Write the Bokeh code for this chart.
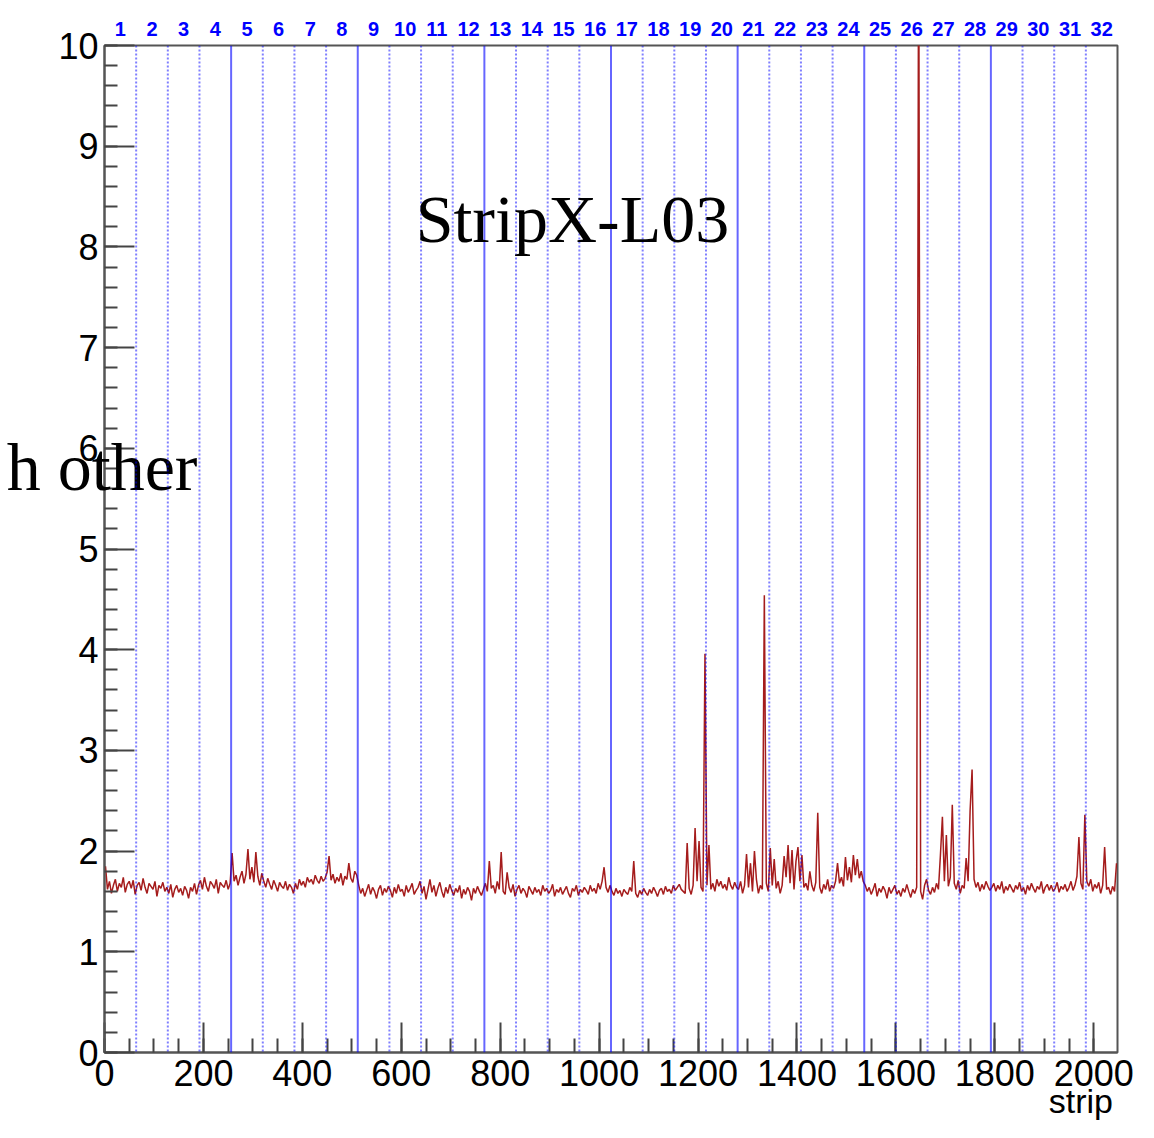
from bokeh.plotting import figure
from bokeh.models import (Label, Span, Range1d, SingleIntervalTicker,
                          FixedTicker, LinearAxis)
from bokeh.embed import file_html
from bokeh.resources import INLINE

# ---------------- data (4 strips per value) ----------
strips_per_value = 4
strips_per_chip = 64
n_strips = 2048

s0 = [1.85,1.62,1.70,1.58,1.66,1.72,1.60,1.68,1.64,1.74,1.59,1.67,1.70,1.63,1.71,1.57,
      1.66,1.69,1.61,1.73,1.64,1.58,1.68,1.65,1.62,1.70,1.55,1.66,1.63,1.69,1.60,1.64,
      1.58,1.67,1.54,1.62,1.66,1.59,1.63,1.56,1.65,1.61,1.53,1.64,1.60,1.68,1.57,1.66,
      1.71,1.62,1.74,1.65,1.60,1.70,1.67,1.63,1.72,1.58,1.69,1.66,1.64,1.71,1.62,1.68]
s1 = [1.98,1.70,1.76,1.66,1.74,1.80,1.68,1.77,2.02,1.72,1.84,1.69,1.99,1.75,1.66,1.78,
      1.70,1.64,1.73,1.67,1.62,1.71,1.66,1.60,1.69,1.65,1.63,1.70,1.61,1.67,1.64,1.58,
      1.68,1.62,1.72,1.66,1.70,1.64,1.74,1.69,1.72,1.67,1.76,1.71,1.68,1.75,1.70,1.73,
      1.79,1.95,1.71,1.77,1.68,1.74,1.70,1.78,1.66,1.75,1.72,1.88,1.73,1.69,1.80,1.76]
s2 = [1.66,1.58,1.63,1.55,1.61,1.67,1.57,1.64,1.60,1.53,1.62,1.66,1.56,1.63,1.59,1.65,
      1.61,1.54,1.64,1.58,1.67,1.60,1.62,1.55,1.66,1.59,1.63,1.68,1.57,1.61,1.64,1.70,
      1.58,1.65,1.52,1.62,1.72,1.59,1.66,1.55,1.63,1.69,1.60,1.54,1.64,1.58,1.67,1.61,
      1.56,1.63,1.59,1.66,1.53,1.62,1.57,1.64,1.60,1.51,1.63,1.58,1.65,1.60,1.56,1.62]
s3 = [1.68,1.60,1.90,1.63,1.66,1.58,1.70,1.62,1.99,1.60,1.57,1.79,1.64,1.59,1.67,1.55,
      1.62,1.66,1.58,1.63,1.60,1.54,1.65,1.61,1.57,1.64,1.59,1.62,1.56,1.66,1.60,1.63,
      1.58,1.61,1.67,1.55,1.62,1.59,1.64,1.57,1.61,1.65,1.58,1.54,1.63,1.60,1.66,1.56,
      1.62,1.59,1.64,1.61,1.57,1.66,1.60,1.63,1.58,1.68,1.62,1.70,1.84,1.64,1.59,1.66]
s4 = [1.60,1.56,1.63,1.58,1.61,1.55,1.62,1.59,1.57,1.64,1.60,1.90,1.58,1.54,1.61,1.57,
      1.63,1.59,1.56,1.62,1.58,1.64,1.60,1.55,1.61,1.63,1.57,1.65,1.60,1.62,1.58,1.66,
      1.61,1.64,1.67,1.62,1.60,1.58,2.08,1.63,1.57,1.66,2.23,1.70,2.10,1.64,1.60,3.96,
      1.66,2.06,1.62,1.68,1.60,1.72,1.65,1.70,1.63,1.67,1.61,1.74,1.66,1.62,1.69,1.64]
s5 = [1.62,1.70,1.58,1.66,1.97,1.64,1.88,1.60,2.00,1.72,1.58,1.66,1.62,4.54,1.68,1.60,
      2.03,1.66,1.92,1.63,1.70,1.58,1.66,1.95,1.74,2.06,1.68,2.01,1.62,1.90,2.04,1.70,
      1.96,1.64,1.68,1.61,1.80,1.66,1.60,1.69,2.38,1.64,1.58,1.67,1.62,1.72,1.60,1.66,
      1.63,1.70,1.88,1.68,1.74,1.65,1.94,1.71,1.84,1.69,1.96,1.76,1.92,1.73,1.80,1.70]
s6 = [1.66,1.60,1.64,1.57,1.62,1.68,1.55,1.63,1.59,1.65,1.61,1.53,1.64,1.58,1.62,1.66,
      1.57,1.61,1.55,1.63,1.59,1.67,1.60,1.54,1.62,1.58,1.64,11.5,1.60,1.52,1.66,1.72,
      1.61,1.57,1.64,1.59,1.68,1.62,1.96,2.34,1.70,2.16,1.65,1.74,2.46,1.68,1.62,1.71,
      1.58,1.66,1.63,1.93,1.70,2.40,2.81,1.72,1.64,1.69,1.60,1.67,1.62,1.70,1.65,1.61]
s7 = [1.64,1.68,1.60,1.66,1.62,1.70,1.58,1.65,1.61,1.67,1.63,1.59,1.66,1.62,1.69,1.60,
      1.64,1.57,1.66,1.61,1.68,1.63,1.59,1.65,1.62,1.70,1.58,1.64,1.67,1.61,1.66,1.60,
      1.63,1.69,1.59,1.65,1.62,1.67,1.60,1.64,1.70,1.61,1.66,1.75,2.14,1.68,1.62,2.36,
      1.70,1.65,1.72,1.60,1.67,1.63,1.69,1.58,1.66,2.04,1.62,1.64,1.57,1.65,1.60,1.88]

chip_labels = [str(i) for i in range(1, 33)]
title_text = "StripX-L03"
side_text = "h other"
x_title = "strip"

# ---------------- build ----------------
values = s0 + s1 + s2 + s3 + s4 + s5 + s6 + s7
xs = [i * strips_per_value + strips_per_value / 2 for i in range(len(values))]

p = figure(width=1138, height=1122,
           x_range=Range1d(0, n_strips), y_range=Range1d(0, 10),
           output_backend="svg", toolbar_location=None,
           min_border_left=104, min_border_right=21, min_border_top=45,
           min_border_bottom=70)
p.xgrid.visible = False
p.ygrid.visible = False
p.background_fill_color = "white"
p.border_fill_color = "white"
p.outline_line_color = "#555555"
p.outline_line_width = 2

p.line(xs, values, line_color="#a51c1c", line_width=1.5)

# chip boundaries
for k in range(1, n_strips // strips_per_chip):
    xb = k * strips_per_chip
    if k % 4 == 0:
        p.add_layout(Span(location=xb, dimension="height", line_color="#0000ff",
                          line_alpha=0.6, line_width=2))
    else:
        p.add_layout(Span(location=xb, dimension="height", line_color="#0000ff",
                          line_alpha=0.5, line_width=2, line_dash="2 2"))

xax = p.xaxis[0]
yax = p.yaxis[0]
for ax in (xax, yax):
    ax.axis_line_color = "#555555"
    ax.axis_line_width = 2
    ax.major_tick_line_color = "#444444"
    ax.minor_tick_line_color = "#444444"
    ax.major_tick_line_width = 2
    ax.minor_tick_line_width = 2
    ax.major_tick_out = 0
    ax.minor_tick_out = 0
    ax.major_tick_in = 30
    ax.major_label_text_font = "Liberation Sans"
    ax.major_label_text_font_size = "36px"
    ax.major_label_text_color = "black"

xax.ticker = SingleIntervalTicker(interval=200, num_minor_ticks=4)
xax.minor_tick_in = 14
xax.major_label_standoff = 7
yax.ticker = SingleIntervalTicker(interval=1, num_minor_ticks=5)
yax.minor_tick_in = 13
yax.major_label_standoff = 6


def text_axis(ticks, labels, **kw):
    ax = LinearAxis(ticker=FixedTicker(ticks=ticks, minor_ticks=[]),
                    major_label_overrides=dict(zip(ticks, labels)),
                    axis_line_color=None, major_tick_line_color=None,
                    minor_tick_line_color=None, major_tick_in=0,
                    major_tick_out=0, minor_tick_in=0, minor_tick_out=0, **kw)
    return ax


# chip numbers above the frame
chip_centers = [k * strips_per_chip + strips_per_chip // 2 for k in range(len(chip_labels))]
top_ax = text_axis(chip_centers, chip_labels, major_label_standoff=10,
                   major_label_text_color="#0000ff",
                   major_label_text_font="Liberation Sans",
                   major_label_text_font_style="bold",
                   major_label_text_font_size="20px")
p.add_layout(top_ax, "above")

# overflowing side text on the left
side_ax = text_axis([5.81], [side_text], major_label_standoff=-142,
                    major_label_text_color="black",
                    major_label_text_font="Liberation Serif",
                    major_label_text_font_size="68px")
p.add_layout(side_ax, "left")

# x title under the tick labels, at the right end
bottom_ax = text_axis([1974], [x_title], major_label_standoff=-7,
                      major_label_text_color="black",
                      major_label_text_font="Liberation Sans",
                      major_label_text_font_size="34px")
p.add_layout(bottom_ax, "below")

p.add_layout(Label(x=946, y=8.28, text=title_text, text_align="center",
                   text_baseline="alphabetic", text_font="Liberation Serif",
                   text_font_size="68px", text_color="black"))

open("out.html", "w").write(file_html(p, INLINE))
